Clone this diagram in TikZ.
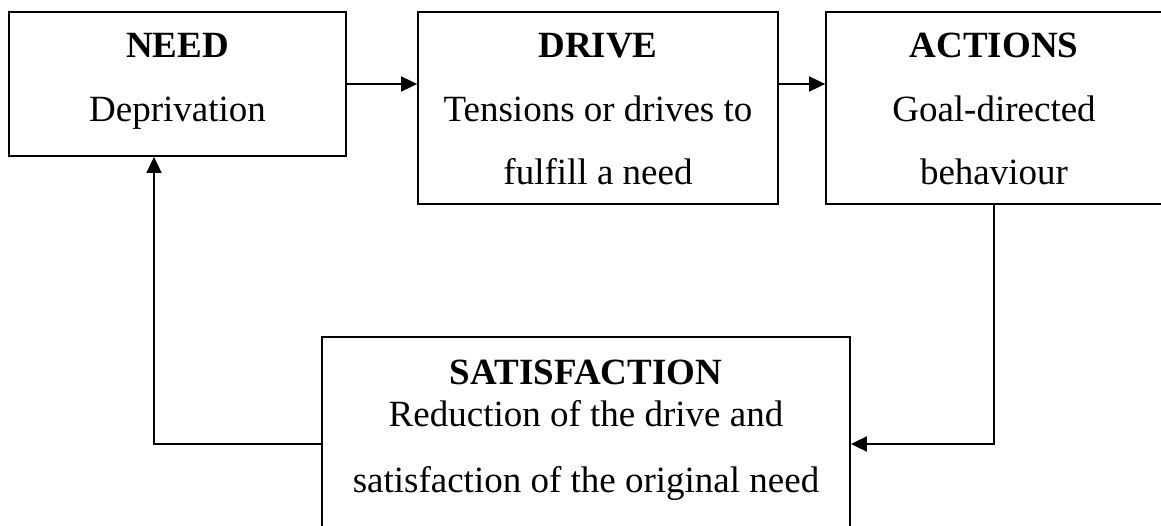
\documentclass[tikz,border=0pt]{standalone}
\usepackage{fontspec}
\setmainfont{Liberation Serif}
\usetikzlibrary{arrows.meta}
\begin{document}
\begin{tikzpicture}[x=1pt,y=-1pt,
  box/.style={draw, line width=1.8pt, inner sep=0pt},
  arr/.style={-{Triangle[length=16pt,width=15pt]}, line width=1.8pt},
  txt/.style={font=\fontsize{37}{37}\selectfont, anchor=base, inner sep=0pt},
  hd/.style={font=\fontsize{37}{37}\selectfont\bfseries, anchor=base, inner sep=0pt}]
\useasboundingbox (0,0) rectangle (1161,526);
% boxes
\node[box, minimum width=337pt, minimum height=144pt] (need) at (177.5,84) {};
\node[box, minimum width=360pt, minimum height=192pt] (drive) at (598,108) {};
\node[box, minimum width=338pt, minimum height=192pt] (actions) at (995,108) {};
\node[box, minimum width=528pt, minimum height=195pt] (sat) at (586,434.5) {};
% texts
\node[hd] (needH) at (177.5,58) {NEED};
\node[txt] (needT) at (177.5,122) {Deprivation};
\node[hd] (driveH) at (598,58) {DRIVE};
\node[txt] (driveT1) at (598,122) {Tensions or drives to};
\node[txt] (driveT2) at (598,185) {fulfill a need};
\node[hd] (actH) at (994,58) {ACTIONS};
\node[txt] (actT1) at (994,122) {Goal-directed};
\node[txt] (actT2) at (994,185) {behaviour};
\node[hd] (satH) at (586,384) {SATISFACTION};
\node[txt] (satT1) at (586,426) {Reduction of the drive and};
\node[txt] (satT2) at (586,492) {satisfaction of the original need};
% connectors
\coordinate (c1) at (994,444);
\coordinate (c2) at (154,444);
\draw[arr] (need.east) -- (drive.west |- need.east);
\draw[arr] (drive.east |- need.east) -- (actions.west |- need.east);
\draw[arr] (c1 |- actions.south) -- (c1) -- (sat.east |- c1);
\draw[arr] (sat.west |- c2) -- (c2) -- (c2 |- need.south);
\end{tikzpicture}
\end{document}
